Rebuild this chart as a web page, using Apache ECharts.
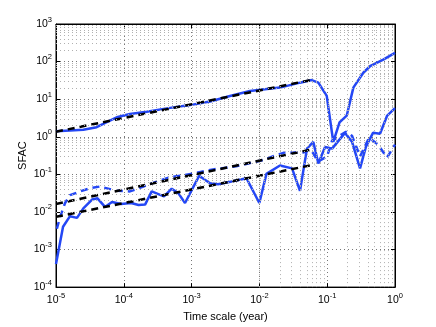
<!DOCTYPE html>
<html>
<head>
<meta charset="utf-8">
<script src="https://cdn.jsdelivr.net/npm/echarts@6/dist/echarts.min.js"></script>
<style>
  html, body { margin: 0; padding: 0; background: #fff; }
  #main { width: 436px; height: 327px; }
</style>
</head>
<body>
<div id="main"></div>
<script>
// upper solid curve
var topX = [1e-5, 1.61e-5, 2.53e-5, 3.98e-5, 5.6e-5, 7.86e-5, 1.23e-4, 2.18e-4, 4.3e-4, 9.46e-4,
  1.87e-3, 3.68e-3, 7.26e-3, 0.0201, 0.0397, 0.059, 0.074, 0.0984, 0.123, 0.152, 0.194, 0.243,
  0.341, 0.428, 0.671, 1];
var topY = [1.41, 1.47, 1.53, 1.80, 2.44, 3.30, 4.03, 4.63, 5.69, 6.95,
  8.69, 12.2, 16.5, 20.3, 27.5, 32.2, 27.5, 12.2, 0.726, 2.4, 3.64, 20.3,
  50.5, 75.2, 113, 170];

// lower solid curve
var lowX = [1e-5, 1.27e-5, 1.61e-5, 2.04e-5, 2.53e-5, 3.4e-5, 4.09e-5, 5.28e-5, 6.7e-5, 9.1e-5,
  1.28e-4, 1.65e-4, 2.06e-4, 2.58e-4, 3.23e-4, 3.92e-4, 5.09e-4, 6.36e-4, 8.0e-4, 1.29e-3,
  1.87e-3, 2.45e-3, 3.9e-3, 6.45e-3, 9.98e-3, 0.0127, 0.0201, 0.0303, 0.0397, 0.0503,
  0.0624, 0.074, 0.093, 0.118, 0.183, 0.232, 0.305, 0.373, 0.474, 0.601, 0.762, 1];
var lowY = [4.1e-4, 4.03e-3, 7.71e-3, 6.95e-3, 0.0124, 0.0213, 0.023, 0.0136, 0.0183, 0.0163,
  0.0173, 0.0153, 0.0157, 0.0351, 0.0298, 0.0259, 0.0415, 0.0316, 0.0173, 0.0914,
  0.058, 0.0546, 0.0643, 0.0785, 0.0173, 0.103, 0.172, 0.144, 0.0364, 0.483,
  0.726, 0.195, 0.536, 0.483, 1.27, 0.738, 0.144, 0.546, 1.27, 1.2, 3.57, 5.8];

// blue dashed curve
var dashX = [1.03e-5, 1.15e-5, 1.36e-5, 1.61e-5, 2.26e-5, 3.17e-5, 4.45e-5, 7.86e-5, 1.23e-4, 1.94e-4,
  3.05e-4, 4.8e-4, 8e-4, 2.07e-3, 4.52e-3, 0.01057, 0.0231, 0.044, 0.0577, 0.0731,
  0.0993, 0.118, 0.189, 0.232, 0.305, 0.414, 0.562, 0.762, 1];
var dashY = [3.57e-3, 7.38e-3, 0.0173, 0.028, 0.0351, 0.0428, 0.0474, 0.0364, 0.0351, 0.0474,
  0.0643, 0.0834, 0.0959, 0.135, 0.163, 0.233, 0.379, 0.379, 0.455, 0.22,
  0.298, 0.785, 1.36, 1.06, 0.298, 0.942, 0.616, 0.28, 0.616];

// black dashed fits
var fitTopX = [1e-5, 0.057];
var fitTopY = [1.36, 32.2];
var fitMidX = [1e-5, 0.0617];
var fitMidY = [0.0162, 0.469];
var fitLowX = [1e-5, 0.066];
var fitLowY = [0.0074, 0.183];

var xDecades = [-5, -4, -3, -2, -1];
var yDecades = [-4, -3, -2, -1, 0, 1, 2];

function pairs(xs, ys) {
  var out = [];
  for (var i = 0; i < xs.length; i++) out.push([xs[i], ys[i]]);
  return out;
}

// minor grid lines at 2..9 of every decade
var minorLines = [];
for (var i = 0; i < xDecades.length; i++) {
  for (var k = 2; k <= 9; k++) minorLines.push({ xAxis: k * Math.pow(10, xDecades[i]) });
}
for (var i = 0; i < yDecades.length; i++) {
  for (var k = 2; k <= 9; k++) minorLines.push({ yAxis: k * Math.pow(10, yDecades[i]) });
}

function powLabel(v) {
  var e = Math.round(Math.log(v) / Math.LN10);
  return '{b|10}{s|' + e + '}';
}
var labelRich = {
  b: { fontSize: 10.5, fontFamily: 'Liberation Sans', color: '#000' },
  s: { fontSize: 7.5, fontFamily: 'Liberation Sans', color: '#000', padding: [0, 0, 9, 0] }
};

var BLUE = '#2447f5';

var myChart = echarts.init(document.getElementById('main'));
var option = {
  animation: false,
  backgroundColor: '#fff',
  grid: {
    left: 56, right: 41, top: 24, bottom: 37,
    show: true, borderColor: '#000', borderWidth: 1, backgroundColor: '#fff'
  },
  xAxis: [{
    type: 'log', logBase: 10, min: 1e-5, max: 1, interval: 1,
    name: 'Time scale (year)', nameLocation: 'middle', nameGap: 18,
    nameTextStyle: { fontSize: 11, fontFamily: 'Liberation Sans', color: '#000' },
    axisLine: { lineStyle: { color: '#000' } },
    axisTick: { inside: true, length: 4, lineStyle: { color: '#000' } },
    axisLabel: { formatter: powLabel, rich: labelRich, margin: 5 },
    splitLine: { show: true, lineStyle: { type: [1, 3], color: '#777' } }
  }, {
    type: 'log', logBase: 10, min: 1e-5, max: 1, interval: 1, position: 'top',
    axisLine: { lineStyle: { color: '#000' } },
    axisTick: { inside: true, length: 4, lineStyle: { color: '#000' } },
    axisLabel: { show: false }, splitLine: { show: false }
  }],
  yAxis: [{
    type: 'log', logBase: 10, min: 1e-4, max: 1000, interval: 1,
    name: 'SFAC', nameLocation: 'middle', nameGap: 28, nameMoveOverlap: false,
    nameTextStyle: { fontSize: 11, fontFamily: 'Liberation Sans', color: '#000' },
    axisLine: { lineStyle: { color: '#000' } },
    axisTick: { inside: true, length: 4, lineStyle: { color: '#000' } },
    axisLabel: { formatter: powLabel, rich: labelRich, margin: 4 },
    splitLine: { show: true, lineStyle: { type: [1, 3], color: '#777' } }
  }, {
    type: 'log', logBase: 10, min: 1e-4, max: 1000, interval: 1, position: 'right',
    axisLine: { lineStyle: { color: '#000' } },
    axisTick: { inside: true, length: 4, lineStyle: { color: '#000' } },
    axisLabel: { show: false }, splitLine: { show: false }
  }],
  series: [
    {
      type: 'line', data: [], z: 1, silent: true,
      markLine: {
        silent: true, symbol: 'none', animation: false,
        label: { show: false },
        lineStyle: { type: [1, 3], color: '#b0b0b0', width: 1 },
        data: minorLines
      }
    },
    {
      name: 'top', type: 'line', data: pairs(topX, topY), showSymbol: false,
      lineStyle: { color: BLUE, width: 2.5 }, z: 3
    },
    {
      name: 'low', type: 'line', data: pairs(lowX, lowY), showSymbol: false,
      lineStyle: { color: BLUE, width: 2.5 }, z: 3
    },
    {
      name: 'dash', type: 'line', data: pairs(dashX, dashY), showSymbol: false,
      lineStyle: { color: BLUE, width: 2.5, type: [7, 5] }, z: 3
    },
    {
      name: 'fitTop', type: 'line', data: pairs(fitTopX, fitTopY), showSymbol: false,
      lineStyle: { color: '#000', width: 2.5, type: [7, 5] }, z: 4
    },
    {
      name: 'fitMid', type: 'line', data: pairs(fitMidX, fitMidY), showSymbol: false,
      lineStyle: { color: '#000', width: 2.5, type: [7, 5] }, z: 4
    },
    {
      name: 'fitLow', type: 'line', data: pairs(fitLowX, fitLowY), showSymbol: false,
      lineStyle: { color: '#000', width: 2.5, type: [7, 5] }, z: 4
    }
  ]
};
myChart.setOption(option);
window.onresize = myChart.resize;
</script>
</body>
</html>
